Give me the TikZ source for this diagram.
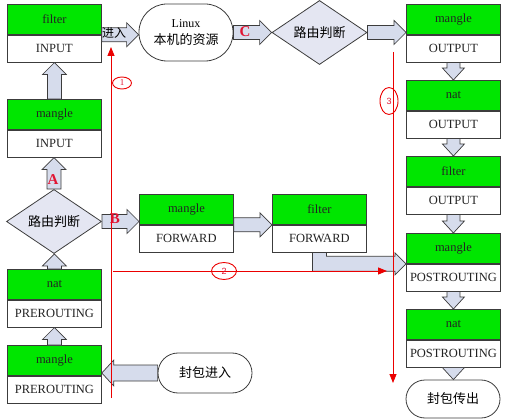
\documentclass[tikz,border=0pt]{standalone}
\usepackage{fontspec}
\setmainfont{Liberation Serif}
\newfontfamily\cjk{Noto Sans CJK SC}
\newfontfamily\numsans{Liberation Sans}
\usetikzlibrary{shapes.geometric,arrows.meta,calc}
\definecolor{boxgreen}{RGB}{0,230,0}
\definecolor{boxline}{RGB}{60,60,60}
\definecolor{boxtext}{RGB}{35,35,35}
\definecolor{arrfill}{RGB}{214,220,236}
\definecolor{dfill}{RGB}{228,230,242}
\definecolor{redl}{RGB}{235,0,0}
\definecolor{redt}{RGB}{225,20,50}
\tikzset{
  box/.style={draw=boxline, line width=0.8pt, minimum width=94pt, inner sep=0pt,
    text=boxtext, font=\fontsize{12.5}{14}\selectfont},
  gtop/.style={box, fill=boxgreen, minimum height=30pt, anchor=north west},
  wbot/.style={box, fill=white, minimum height=27pt, anchor=north},
  stadium/.style={draw=boxline, line width=0.8pt, fill=white, minimum width=94pt,
    inner sep=0pt, align=center},
  decide/.style={diamond, draw=boxline, line width=0.8pt, fill=dfill, minimum width=95pt,
    minimum height=57pt, inner sep=0pt, font=\cjk\fontsize{13}{15}\selectfont},
  barrow/.style={draw=boxline, line width=0.7pt, fill=arrfill},
  redline/.style={draw=redl, line width=0.8pt, -{Triangle[length=9pt,width=7pt]}},
  redletter/.style={text=redt, font=\bfseries\fontsize{15}{15}\selectfont, inner sep=0pt},
  rednum/.style={ellipse, draw=redl, line width=0.9pt, inner sep=0pt, text=redt,
    font=\fontsize{9}{9}\selectfont},
}
\newcommand\tblbox[5]{%
  \node[gtop] (#1-t) at (#2,#3) {#4};
  \node[wbot] (#1-b) at (#1-t.south) {#5};}
\newcommand\rarr[2]{\draw[barrow] let \p1=(#1),\p2=(#2) in
  (\x1,\y1+7pt) -- (\x2-12pt,\y1+7pt) -- (\x2-12pt,\y1+12pt) -- (\x2,\y1)
  -- (\x2-12pt,\y1-12pt) -- (\x2-12pt,\y1-7pt) -- (\x1,\y1-7pt) -- cycle;}
\newcommand\larr[2]{\draw[barrow] let \p1=(#1),\p2=(#2) in
  (\x1,\y1+8pt) -- (\x2+12pt,\y1+8pt) -- (\x2+12pt,\y1+13pt) -- (\x2,\y1)
  -- (\x2+12pt,\y1-13pt) -- (\x2+12pt,\y1-8pt) -- (\x1,\y1-8pt) -- cycle;}
\newcommand\uarr[2]{\draw[barrow] let \p1=(#1),\p2=(#2) in
  (\x1-7pt,\y1) -- (\x1-7pt,\y2-12pt) -- (\x1-12pt,\y2-12pt) -- (\x1,\y2)
  -- (\x1+12pt,\y2-12pt) -- (\x1+7pt,\y2-12pt) -- (\x1+7pt,\y1) -- cycle;}
\newcommand\darr[2]{\draw[barrow] let \p1=(#1),\p2=(#2) in
  (\x1-6.5pt,\y1) -- (\x1-6.5pt,\y2+12pt) -- (\x1-11pt,\y2+12pt) -- (\x1,\y2)
  -- (\x1+11pt,\y2+12pt) -- (\x1+6.5pt,\y2+12pt) -- (\x1+6.5pt,\y1) -- cycle;}
\newcommand\bentarr[2]{\draw[barrow] let \p1=(#1),\p2=(#2) in
  (\x1-7pt,\y1) -- (\x1-7pt,\y2-7.5pt) -- (\x2-11pt,\y2-7.5pt) -- (\x2-11pt,\y2-11pt)
  -- (\x2,\y2) -- (\x2-11pt,\y2+11pt) -- (\x2-11pt,\y2+7.5pt) -- (\x1+7pt,\y2+7.5pt)
  -- (\x1+7pt,\y1) -- cycle;}
\begin{document}
\begin{tikzpicture}[x=1pt,y=-1pt]
\useasboundingbox (0,0) rectangle (511,419);
% left column
\tblbox{fi}{7}{4}{filter}{INPUT}
\tblbox{mi}{7}{99}{mangle}{INPUT}
\node[decide] (rd1) at (54,221.5) {路由判断};
\tblbox{np}{7}{269}{nat}{PREROUTING}
\tblbox{mp}{7}{345}{mangle}{PREROUTING}
% middle
\node[stadium, minimum height=57pt, rounded corners=28pt, font=\fontsize{12}{17}\selectfont]
  (linux) at (186,32.5) {Linux\\{\cjk\fontsize{13}{17}\selectfont 本机的资源}};
\node[decide] (rd2) at (319.5,32.5) {路由判断};
\tblbox{mf}{139}{194}{mangle}{FORWARD}
\tblbox{ff}{272}{194}{filter}{FORWARD}
\node[stadium, minimum height=40pt, rounded corners=20pt, font=\cjk\fontsize{13}{15}\selectfont]
  (pin) at (205,373) {封包进入};
% right column
\tblbox{mo}{406}{4}{mangle}{OUTPUT}
\tblbox{no}{406}{80}{nat}{OUTPUT}
\tblbox{fo}{406}{156}{filter}{OUTPUT}
\tblbox{mpo}{406}{233}{mangle}{POSTROUTING}
\tblbox{npo}{406}{309}{nat}{POSTROUTING}
\node[stadium, minimum height=38pt, rounded corners=19pt, font=\cjk\fontsize{13}{15}\selectfont]
  (pout) at (453,399) {封包传出};
% block arrows
\uarr{mp-t.north}{np-b.south}
\uarr{np-t.north}{rd1.south}
\uarr{rd1.north}{mi-b.south}
\uarr{mi-t.north}{fi-b.south}
\rarr{fi-b.north east}{linux.west}
\rarr{linux.east}{rd2.west}
\rarr{rd2.east}{mo-t.west}
\rarr{rd1.east}{mf-t.west}
\rarr{mf-t.south east}{ff-t.west}
\bentarr{ff-b.south}{mpo-t.south west}
\larr{pin.west}{mp-t.south east}
\darr{mo-b.south}{no-t.north}
\darr{no-b.south}{fo-t.north}
\darr{fo-b.south}{mpo-t.north}
\darr{mpo-b.south}{npo-t.north}
\darr{npo-b.south}{pout.north}
% red paths
\coordinate (r1a) at (111,398);
\coordinate (r1b) at (111,47);
\coordinate (r2a) at (113,271);
\coordinate (r2b) at (387,271);
\coordinate (r3a) at (393,52);
\coordinate (r3b) at (393,383);
\draw[redline] (r1a) -- (r1b);
\draw[redline] (r2a) -- (r2b);
\draw[redline] (r3a) -- (r3b);
\node[rednum, minimum width=19pt, minimum height=12pt] (n1) at (122,83) {1};
\node[rednum, minimum width=25pt, minimum height=17pt, font=\numsans\fontsize{9}{9}\selectfont] (n2) at (224,271) {2};
\node[rednum, minimum width=18pt, minimum height=27pt, font=\numsans\fontsize{9}{9}\selectfont] (n3) at (389,101) {3};
% labels on arrows
\node[inner sep=0pt, font=\cjk\fontsize{12}{12}\selectfont] (jr) at (114,33) {进入};
\node[redletter] (la) at (53,180) {A};
\node[redletter] (lb) at (115,219) {B};
\node[redletter] (lc) at (245,32) {C};
\end{tikzpicture}
\end{document}
